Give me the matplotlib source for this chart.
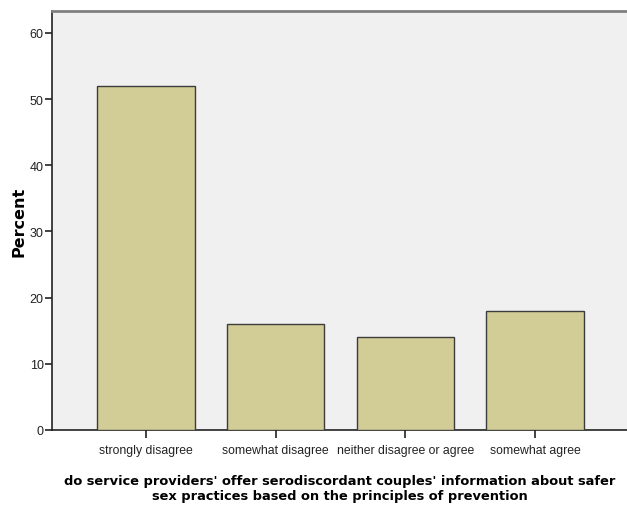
import matplotlib
matplotlib.use("Agg")
import matplotlib.pyplot as plt

categories = ["strongly disagree", "somewhat disagree", "neither disagree or agree", "somewhat agree"]
percents = [52.0, 16.0, 14.0, 18.0]
yticks = [0, 10, 20, 30, 40, 50, 60]

plt.rcParams['font.family'] = ['Liberation Sans', 'DejaVu Sans']

fig = plt.figure(figsize=(6.27, 5.06), dpi=100)
ax = fig.add_axes([52/627, 75/506, 575/627, 419/506])
ax.set_facecolor('#f0f0f0')

x = list(range(len(categories)))
ax.bar(x, percents, width=0.75, color='#d2cd96', edgecolor='#3c3c3c', linewidth=1.0, zorder=3)

ax.set_xlim(-0.726, 3.71)
ax.set_ylim(0, 63.3)
ax.set_yticks(yticks)
ax.set_xticks(x)
ax.set_xticklabels(categories, fontsize=8.8, color='#222222')
ax.tick_params(axis='y', labelsize=9, labelcolor='#222222', length=5, width=1.2, color='#222222', pad=1)
ax.tick_params(axis='x', length=6, width=1.2, color='#222222', pad=4)

for s in ['left', 'bottom']:
    ax.spines[s].set_color('#222222')
    ax.spines[s].set_linewidth(1.2)
ax.spines['top'].set_color('#808080')
ax.spines['top'].set_linewidth(2.0)
ax.spines['right'].set_visible(False)

ax.set_ylabel("Percent", fontsize=11.5, fontweight='bold', family='DejaVu Sans', labelpad=2)
ax.set_xlabel("do service providers' offer serodiscordant couples' information about safer\nsex practices based on the principles of prevention",
              fontsize=9.4, fontweight='bold', family='DejaVu Sans', labelpad=13, linespacing=1.25)

fig.savefig("out.png", dpi=100)
